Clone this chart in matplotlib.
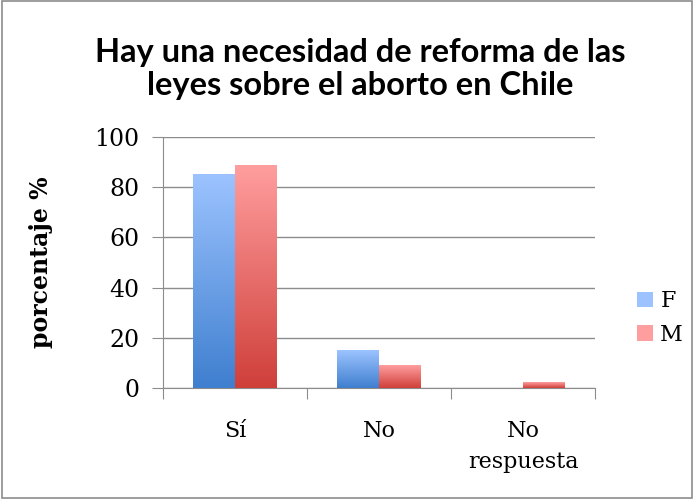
import numpy as np
import matplotlib.pyplot as plt
from matplotlib.colors import LinearSegmentedColormap
from matplotlib.patches import Rectangle

categorias = ["Sí", "No", "No\nrespuesta"]
series = ["F", "M"]
valores_f = [85, 15, 0]
valores_m = [88.5, 9, 2.2]

colores = {
    "F": ("#3f7fcf", "#9cc3ff"),
    "M": ("#cf3f3a", "#ff9e9e"),
}

serif = "DejaVu Serif"

fig = plt.figure(figsize=(6.96, 4.99), dpi=100)
ax = fig.add_axes([163 / 696, 1 - 388 / 499, 432 / 696, 251 / 499])

x = np.arange(len(categorias))
ancho = 0.29
grad = np.linspace(0, 1, 256).reshape(-1, 1)


def barras_gradiente(pos, vals, nombre):
    cmap = LinearSegmentedColormap.from_list(nombre, colores[nombre])
    for xi, v in zip(pos, vals):
        if v <= 0:
            continue
        ax.imshow(grad, extent=(xi - ancho / 2, xi + ancho / 2, 0, v),
                  origin="lower", cmap=cmap, aspect="auto", zorder=3)
    # proxy for the legend
    ax.bar([0], [0], color=colores[nombre][1], label=nombre)


barras_gradiente(x - ancho / 2, valores_f, "F")
barras_gradiente(x + ancho / 2, valores_m, "M")

ax.set_xlim(-0.5, 2.5)
ax.set_ylim(0, 100)
ax.set_yticks(range(0, 101, 20))
ax.yaxis.grid(True, color="#8c8c8c", lw=1)
ax.set_axisbelow(True)
for s in ["top", "right"]:
    ax.spines[s].set_visible(False)
for s in ["left", "bottom"]:
    ax.spines[s].set_color("#8c8c8c")
ax.tick_params(axis="y", length=8, color="#8c8c8c", labelsize=17, pad=9)
ax.set_xticks([-0.5, 0.5, 1.5, 2.5])
ax.set_xticklabels([])
ax.set_xticks(x, minor=True)
ax.set_xticklabels(categorias, minor=True, fontsize=16, family=serif,
                   linespacing=1.55, va="top")
ax.tick_params(axis="x", which="major", length=8, color="#8c8c8c")
ax.tick_params(axis="x", which="minor", length=0, pad=23)
for lab in ax.get_yticklabels():
    lab.set_family(serif)

ax.set_ylabel("porcentaje %", family=serif, fontsize=17, fontweight="bold",
              labelpad=30)

fig.text(0.518, 1 - 69 / 499,
         "Hay una necesidad de reforma de las\nleyes sobre el aborto en Chile",
         ha="center", va="center", fontsize=23.5, fontweight="bold",
         family="Lato", linespacing=1.2)

leg = fig.legend(loc="center left", bbox_to_anchor=(617 / 696, 1 - 318 / 499),
                 frameon=False, prop={"family": serif, "size": 16},
                 handlelength=0.7, handleheight=0.7, labelspacing=0.5,
                 handletextpad=0.35)

fig.patches.append(Rectangle((0.003, 0.003), 0.991, 0.994,
                             transform=fig.transFigure, fill=False,
                             edgecolor="#8c8c8c", lw=1.2))

fig.savefig("out.png", dpi=100)
